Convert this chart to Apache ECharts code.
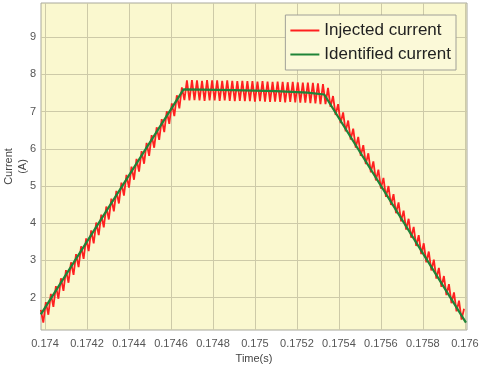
<!DOCTYPE html>
<html><head><meta charset="utf-8">
<script src="https://cdn.jsdelivr.net/npm/echarts@6/dist/echarts.min.js"></script>
<style>html,body{margin:0;padding:0;background:#fff}#c{width:480px;height:366px}</style>
</head><body><div id="c"></div>
<script>
// Time grid of the injected-current samples (turning points of the ripple)
const timeStart = 0.17398;
const timeStep = 0.000012;
// Injected current (A), peaks and troughs alternating
const injected = [
  1.67,1.33,1.88,1.54,2.10,1.75,2.31,1.97,2.52,2.18,
  2.74,2.40,2.95,2.61,3.17,2.82,3.38,3.04,3.59,3.25,
  3.81,3.46,4.02,3.68,4.23,3.89,4.45,4.10,4.66,4.32,
  4.87,4.53,5.09,4.74,5.30,4.96,5.52,5.17,5.73,5.39,
  5.94,5.60,6.16,5.81,6.37,6.03,6.58,6.24,6.80,6.45,
  7.01,6.67,7.22,6.88,7.44,7.09,7.65,
  7.31,7.84,7.30,7.85,7.31,7.84,7.30,7.83,7.29,7.85,
  7.30,7.84,7.30,7.84,7.29,7.83,7.30,7.84,7.29,7.83,
  7.28,7.82,7.29,7.83,7.28,7.82,7.28,7.82,7.27,7.81,
  7.28,7.82,7.27,7.81,7.26,7.80,7.27,7.81,7.26,7.80,
  7.25,7.79,7.26,7.80,7.25,7.79,7.24,7.78,7.24,7.78,
  7.23,7.77,7.22,7.76,7.20,7.74,
  7.20,7.64,7.13,7.42,6.91,7.20,6.69,6.98,6.47,6.76,
  6.25,6.54,6.03,6.32,5.81,6.10,5.59,5.88,5.37,5.66,
  5.15,5.44,4.93,5.22,4.71,5.00,4.49,4.78,4.27,4.56,
  4.05,4.34,3.83,4.12,3.61,3.90,3.39,3.68,3.17,3.46,
  2.95,3.24,2.73,3.02,2.51,2.80,2.29,2.58,2.07,2.36,
  1.85,2.14,1.63,1.92,1.41,1.70
];
// Identified current (A): piecewise linear breakpoints
const identifiedTime = [0.17398, 0.17466, 0.1749, 0.1751, 0.17525, 0.17533, 0.176005];
const identifiedValue = [1.55, 7.60, 7.58, 7.55, 7.51, 7.46, 1.33];
// Axis ticks
const xTicks = [0.174,0.1742,0.1744,0.1746,0.1748,0.175,0.1752,0.1754,0.1756,0.1758,0.176];
const xTickLabels = ['0.174','0.1742','0.1744','0.1746','0.1748','0.175','0.1752','0.1754','0.1756','0.1758','0.176'];
const yTicks = [2,3,4,5,6,7,8,9];

const injectedData = injected.map((v, i) => [timeStart + i * timeStep, v]);
const identifiedData = identifiedTime.map((t, i) => [t, identifiedValue[i]]);

const font = "'Liberation Sans', Arial, sans-serif";
const chart = echarts.init(document.getElementById('c'), null, {renderer: 'canvas'});
chart.setOption({
  animation: false,
  backgroundColor: '#ffffff',
  grid: {left: 41, right: 13, top: 3, bottom: 36, show: true, containLabel: false,
         outerBoundsMode: 'none',
         backgroundColor: '#faf8cf', borderColor: '#a8a89c', borderWidth: 1},
  xAxis: {
    type: 'value', min: 0.173981, max: 0.17601,
    name: 'Time(s)', nameLocation: 'middle', nameGap: 23, nameMoveOverlap: false,
    nameTextStyle: {fontFamily: font, fontSize: 11, color: '#444'},
    axisLine: {show: false},
    axisTick: {show: false, customValues: xTicks},
    axisLabel: {customValues: xTicks, margin: 8, fontFamily: font, fontSize: 11, color: '#555',
      formatter: v => { const k = xTicks.findIndex(t => Math.abs(t - v) < 1e-9); return k >= 0 ? xTickLabels[k] : ''; }},
    splitLine: {show: true, lineStyle: {color: '#cdcaa8', width: 1}}
  },
  yAxis: {
    type: 'value', min: 1.13, max: 9.92,
    name: 'Current\n(A)', nameLocation: 'middle', nameRotate: 90, nameGap: 11, nameMoveOverlap: false,
    nameTextStyle: {fontFamily: font, fontSize: 11, color: '#444', lineHeight: 14},
    axisLine: {show: false},
    axisTick: {show: false, customValues: yTicks},
    axisLabel: {customValues: yTicks, margin: 5, fontFamily: font, fontSize: 11, color: '#555'},
    splitLine: {show: true, lineStyle: {color: '#cdcaa8', width: 1}}
  },
  legend: {
    orient: 'vertical', right: 24, top: 15,
    padding: [7, 5, 7, 5], itemGap: 7, itemWidth: 29, itemHeight: 2,
    icon: 'rect',
    backgroundColor: '#fbf9d8', borderColor: '#a0a098', borderWidth: 1,
    textStyle: {fontFamily: font, fontSize: 17, color: '#222', lineHeight: 16},
    data: ['Injected current', 'Identified current']
  },
  series: [
    {name: 'Injected current', type: 'line', data: injectedData, symbol: 'none',
     lineStyle: {color: '#ff2020', width: 1.8}, itemStyle: {color: '#ff2020'}},
    {name: 'Identified current', type: 'line', data: identifiedData, symbol: 'none',
     lineStyle: {color: '#1e8438', width: 2.2}, itemStyle: {color: '#1e8438'}}
  ]
});
</script></body></html>
